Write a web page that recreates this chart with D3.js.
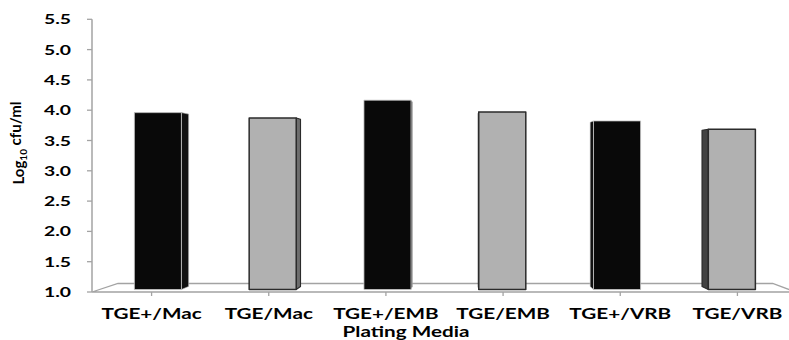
<!DOCTYPE html>
<html>
<head>
<meta charset="utf-8">
<script src="https://cdn.jsdelivr.net/npm/d3@7"></script>
<style>
  html, body { margin: 0; padding: 0; background: #fff; }
  svg { display: block; }
  text { font-family: Lato, "Open Sans", sans-serif; font-weight: bold; fill: #000; }
</style>
</head>
<body>
<svg id="chart" width="789" height="340"></svg>
<script>
// ---- data ----
const categories = ["TGE+/Mac", "TGE/Mac", "TGE+/EMB", "TGE/EMB", "TGE+/VRB", "TGE/VRB"];
const values = [3.98, 3.89, 4.19, 3.99, 3.84, 3.70];
const yTicks = [1.0, 1.5, 2.0, 2.5, 3.0, 3.5, 4.0, 4.5, 5.0, 5.5];
const yTitleMain = "Log";
const yTitleSub = "10";
const yTitleRest = " cfu/ml";
const xTitle = "Plating Media";

// ---- layout ----
const W = 789, H = 340;
const SX = 1.38;                 // horizontal text stretch of the original picture
const VPX = 463, VPY = 170.6;    // perspective centre
const SHRINK = 0.07;             // scale loss from front to back of floor
const D_FRONT = 0.29, D_BACK = 0.65;

const svg = d3.select("#chart");

const x = d3.scaleBand().domain(categories).range([93, 796])
  .paddingInner(0.59).paddingOuter(0.295);
const y = d3.scaleLinear().domain([1, 5.5]).range([292, 19.3]);

function P(px, py, d) {
  const k = 1 - SHRINK * d;
  return [VPX + (px - VPX) * k, VPY + (py - VPY) * k];
}
const poly = pts => pts.map(p => p.join(",")).join(" ");

// ---- floor ----
const fx0 = 92, fx1 = 796, fy = y(1);
svg.append("polygon")
  .attr("points", poly([P(fx0, fy, 0), P(fx1, fy, 0), P(fx1, fy, 1), P(fx0, fy, 1)]))
  .attr("fill", "#fff").attr("stroke", "#a3a3a3").attr("stroke-width", 1.3);

// ---- value axis ----
svg.append("line")
  .attr("x1", fx0).attr("x2", fx0).attr("y1", y(5.5)).attr("y2", y(1))
  .attr("stroke", "#a3a3a3").attr("stroke-width", 1.5);
svg.selectAll(".ytick").data(yTicks).join("line")
  .attr("x1", fx0 - 5).attr("x2", fx0).attr("y1", d => y(d)).attr("y2", d => y(d))
  .attr("stroke", "#a3a3a3").attr("stroke-width", 1.3);
svg.selectAll(".ylab").data(yTicks).join("text")
  .attr("transform", d => `translate(71,${y(d)}) scale(${SX},1)`)
  .attr("text-anchor", "end").attr("dy", "0.36em")
  .style("font-size", "14px")
  .text(d => d3.format(".1f")(d));

// ---- category ticks ----
svg.selectAll(".xtick").data(categories).join("line")
  .attr("x1", d => x(d) + x.bandwidth() / 2).attr("x2", d => x(d) + x.bandwidth() / 2)
  .attr("y1", fy).attr("y2", fy + 4)
  .attr("stroke", "#a3a3a3").attr("stroke-width", 1.3);

// ---- bars ----
const bars = categories.map((c, i) => ({ c, v: values[i], i }));
const g = svg.append("g");
bars.forEach(b => {
  const xl = x(b.c), xr = x(b.c) + x.bandwidth();
  const yt = y(b.v), yb = y(1);
  const dark = b.i % 2 === 0;
  const frontFill = dark ? "#090909" : "#b1b1b1";
  const edge = dark ? "#c8c8c8" : "#2b2b2b";
  // side face
  let sx = null;
  if (xr < VPX - 2) sx = xr;
  else if (xl > VPX + 2) sx = xl;
  if (sx !== null) {
    const sideFill = dark ? "#111" : (sx === xr ? "#6d6d6d" : "#424242");
    g.append("polygon")
      .attr("points", poly([P(sx, yt, D_FRONT), P(sx, yt, D_BACK), P(sx, yb, D_BACK), P(sx, yb, D_FRONT)]))
      .attr("fill", sideFill).attr("stroke", edge).attr("stroke-width", dark ? 0.6 : 1.1)
      .attr("stroke-linejoin", "round");
  }
  // front face
  g.append("polygon")
    .attr("points", poly([P(xl, yt, D_FRONT), P(xr, yt, D_FRONT), P(xr, yb, D_FRONT), P(xl, yb, D_FRONT)]))
    .attr("fill", frontFill).attr("stroke", edge).attr("stroke-width", dark ? 0.8 : 1.5)
    .attr("stroke-linejoin", "round");
});

// ---- category labels ----
svg.selectAll(".xlab").data(categories).join("text")
  .attr("transform", d => `translate(${x(d) + x.bandwidth() / 2},319) scale(${SX},1)`)
  .attr("text-anchor", "middle")
  .style("font-size", "15px")
  .text(d => d);

// ---- axis titles ----
svg.append("text")
  .attr("transform", `translate(406,336.5) scale(${SX},1)`)
  .attr("text-anchor", "middle")
  .style("font-size", "15px")
  .text(xTitle);

const yt = svg.append("text")
  .attr("transform", "translate(24,143) rotate(-90)")
  .attr("text-anchor", "middle")
  .style("font-size", "15px");
yt.append("tspan").text(yTitleMain);
yt.append("tspan").attr("dy", "0.28em").style("font-size", "10px").text(yTitleSub);
yt.append("tspan").attr("dy", "-0.42em").text(yTitleRest);
</script>
</body>
</html>
